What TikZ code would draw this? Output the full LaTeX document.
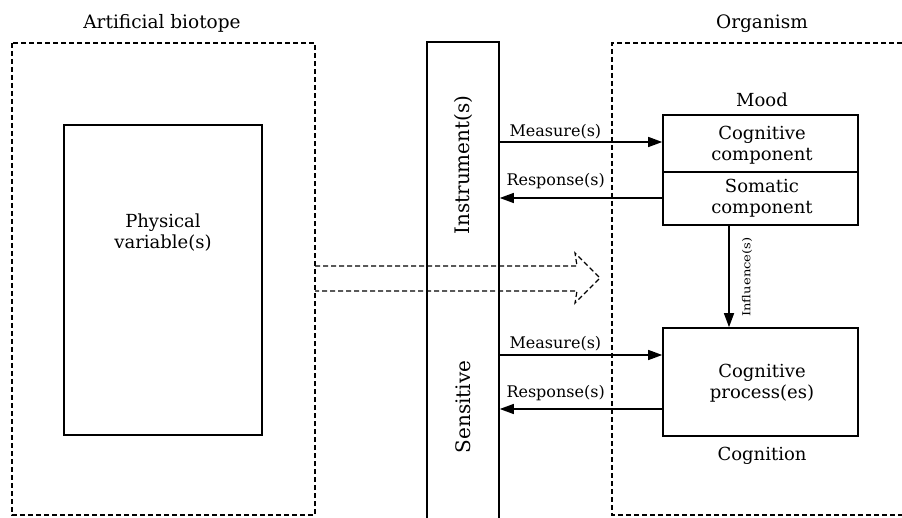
\documentclass[tikz,border=0pt]{standalone}
\usepackage{fontspec}
\setmainfont{DejaVu Serif}
\usetikzlibrary{arrows.meta}
\begin{document}
\begin{tikzpicture}[x=1pt,y=-1pt,
  solidbox/.style={draw, line width=1.6pt},
  dashbox/.style={draw, line width=1.3pt, dash pattern=on 5pt off 3pt},
  flow/.style={line width=1.4pt, -{Triangle[length=14pt,width=10pt]}},
  bigtxt/.style={font=\fontsize{18.5}{21}\selectfont, align=center},
  midtxt/.style={font=\fontsize{18}{21}\selectfont, align=center},
  vtxt/.style={font=\fontsize{20}{24}\selectfont, rotate=90},
  smalltxt/.style={font=\fontsize{16}{19}\selectfont},
  tinytxt/.style={font=\fontsize{11}{13}\selectfont}]
\useasboundingbox (0,0) rectangle (902,518);
% left biotope
\draw[dashbox] (12,43) rectangle (315,515);
\node[bigtxt] (tbio) at (162,23) {Artificial biotope};
\node[solidbox, minimum width=198pt, minimum height=310pt] (phys) at (163,280) {};
\node[midtxt] (physt) at (163,233) {Physical\\variable(s)};
% organism
\draw[dashbox] (902,43) -- (612,43) -- (612,515) -- (902,515);
\node[bigtxt] (torg) at (762,24) {Organism};
% instrument
\node[solidbox, minimum width=72pt, minimum height=480pt] (inst) at (463,282) {};
\node[vtxt] (instt) at (463,165) {Instrument(s)};
\node[vtxt] (senst) at (463,407) {Sensitive};
% mood
\node[solidbox, minimum width=195pt, minimum height=110pt] (mood) at (760.5,170) {};
\draw[line width=1.4pt] (mood.west |- 0,172) -- (mood.east |- 0,172);
\node[midtxt] (moodt) at (762,100) {Mood};
\node[midtxt] (cogc) at (762,145) {Cognitive\\component};
\node[midtxt] (somc) at (762,198) {Somatic\\component};
% cognition
\node[solidbox, minimum width=195pt, minimum height=108pt] (cogp) at (760.5,382) {};
\node[midtxt] (cogpt) at (762,383) {Cognitive\\process(es)};
\node[midtxt] (cognt) at (762,456) {Cognition};
% arrows
\coordinate (m1a) at (inst.east |- 0,142);
\coordinate (m1b) at (mood.west |- 0,142);
\coordinate (r1a) at (mood.west |- 0,198);
\coordinate (r1b) at (inst.east |- 0,198);
\coordinate (m2a) at (inst.east |- 0,355);
\coordinate (m2b) at (cogp.west |- 0,355);
\coordinate (r2a) at (cogp.west |- 0,409);
\coordinate (r2b) at (inst.east |- 0,409);
\draw[flow] (m1a) -- node[smalltxt, pos=0, anchor=base west, xshift=9pt, yshift=5pt, inner sep=0pt] {Measure(s)} (m1b);
\draw[flow] (r1a) -- node[smalltxt, pos=1, anchor=base west, xshift=6pt, yshift=12pt, inner sep=0pt] {Response(s)} (r1b);
\draw[flow] (m2a) -- node[smalltxt, pos=0, anchor=base west, xshift=9pt, yshift=6pt, inner sep=0pt] {Measure(s)} (m2b);
\draw[flow] (r2a) -- node[smalltxt, pos=1, anchor=base west, xshift=6pt, yshift=11pt, inner sep=0pt] {Response(s)} (r2b);
\coordinate (infa) at (mood.south -| 729,0);
\coordinate (infb) at (cogp.north -| 729,0);
\draw[flow] (infa) -- (infb);
\node[tinytxt, rotate=90, inner sep=0pt] (inft) at (747,277) {\scalebox{1.2}[1]{Influence(s)}};
% big dashed arrow
\draw[dashbox, line width=1.2pt] (315,266) -- (577,266) -- (575,253) -- (600,278) -- (575,303) -- (577,291) -- (315,291);
\end{tikzpicture}
\end{document}
